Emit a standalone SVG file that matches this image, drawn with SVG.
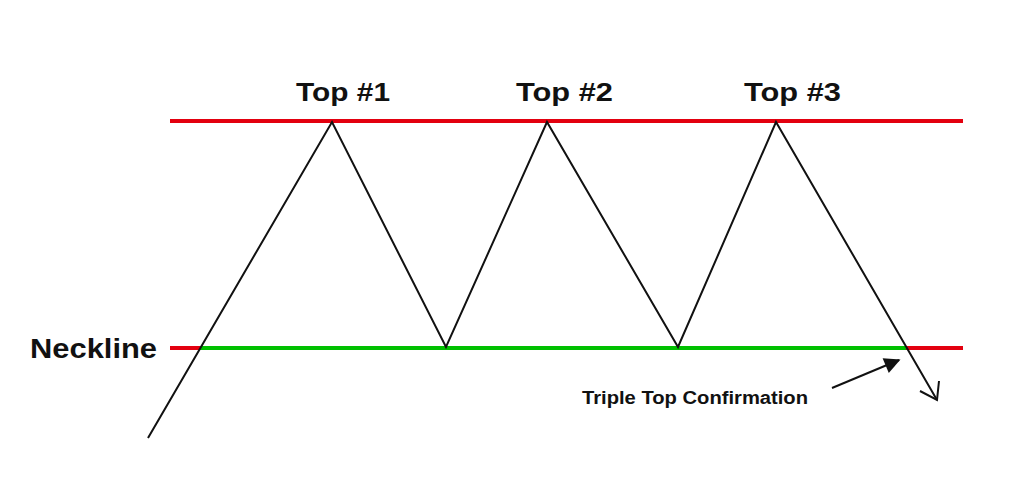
<svg xmlns="http://www.w3.org/2000/svg" width="1016" height="483" viewBox="0 0 1016 483">
<style>
.lbl{font-family:"Liberation Sans",Arial,sans-serif;font-weight:bold;fill:#111;}
.red{stroke:#e3000f;stroke-width:4;fill:none}
.grn{stroke:#00c000;stroke-width:4;fill:none}
.pr{stroke:#111;stroke-width:2;fill:none;stroke-linejoin:miter}
</style>
<defs>
<marker id="tri" viewBox="0 0 10 10" refX="9" refY="5" markerWidth="22" markerHeight="16" markerUnits="userSpaceOnUse" orient="auto">
<path d="M0,0 L10,5 L0,10 z" fill="#111"/>
</marker>
</defs>
<rect width="1016" height="483" fill="#fff"/>
<g id="resistance"><line class="red" x1="170" y1="121" x2="963" y2="121"/></g>
<g id="neckline">
<line class="red" x1="170" y1="348" x2="202" y2="348"/>
<line class="grn" x1="200" y1="348" x2="908" y2="348"/>
<line class="red" x1="906" y1="348" x2="963" y2="348"/>
</g>
<g id="connectors">
<polyline class="pr" points="148,438 332,122 446,347 547,122 678,347 776,122 937,400"/>
<polyline class="pr" points="920,391 937,400 939,381"/>
<line x1="832" y1="388" x2="899" y2="360" stroke="#111" stroke-width="2" marker-end="url(#tri)"/>
</g>
<g id="top1"><text class="lbl" x="296" y="101" font-size="26" textLength="94" lengthAdjust="spacingAndGlyphs">Top #1</text></g>
<g id="top2"><text class="lbl" x="516" y="101" font-size="26" textLength="97" lengthAdjust="spacingAndGlyphs">Top #2</text></g>
<g id="top3"><text class="lbl" x="744" y="101" font-size="26" textLength="97" lengthAdjust="spacingAndGlyphs">Top #3</text></g>
<g id="necklabel"><text class="lbl" x="30" y="358" font-size="28" textLength="127" lengthAdjust="spacingAndGlyphs">Neckline</text></g>
<g id="confirm"><text class="lbl" x="582" y="404" font-size="18" textLength="226" lengthAdjust="spacingAndGlyphs">Triple Top Confirmation</text></g>
</svg>
